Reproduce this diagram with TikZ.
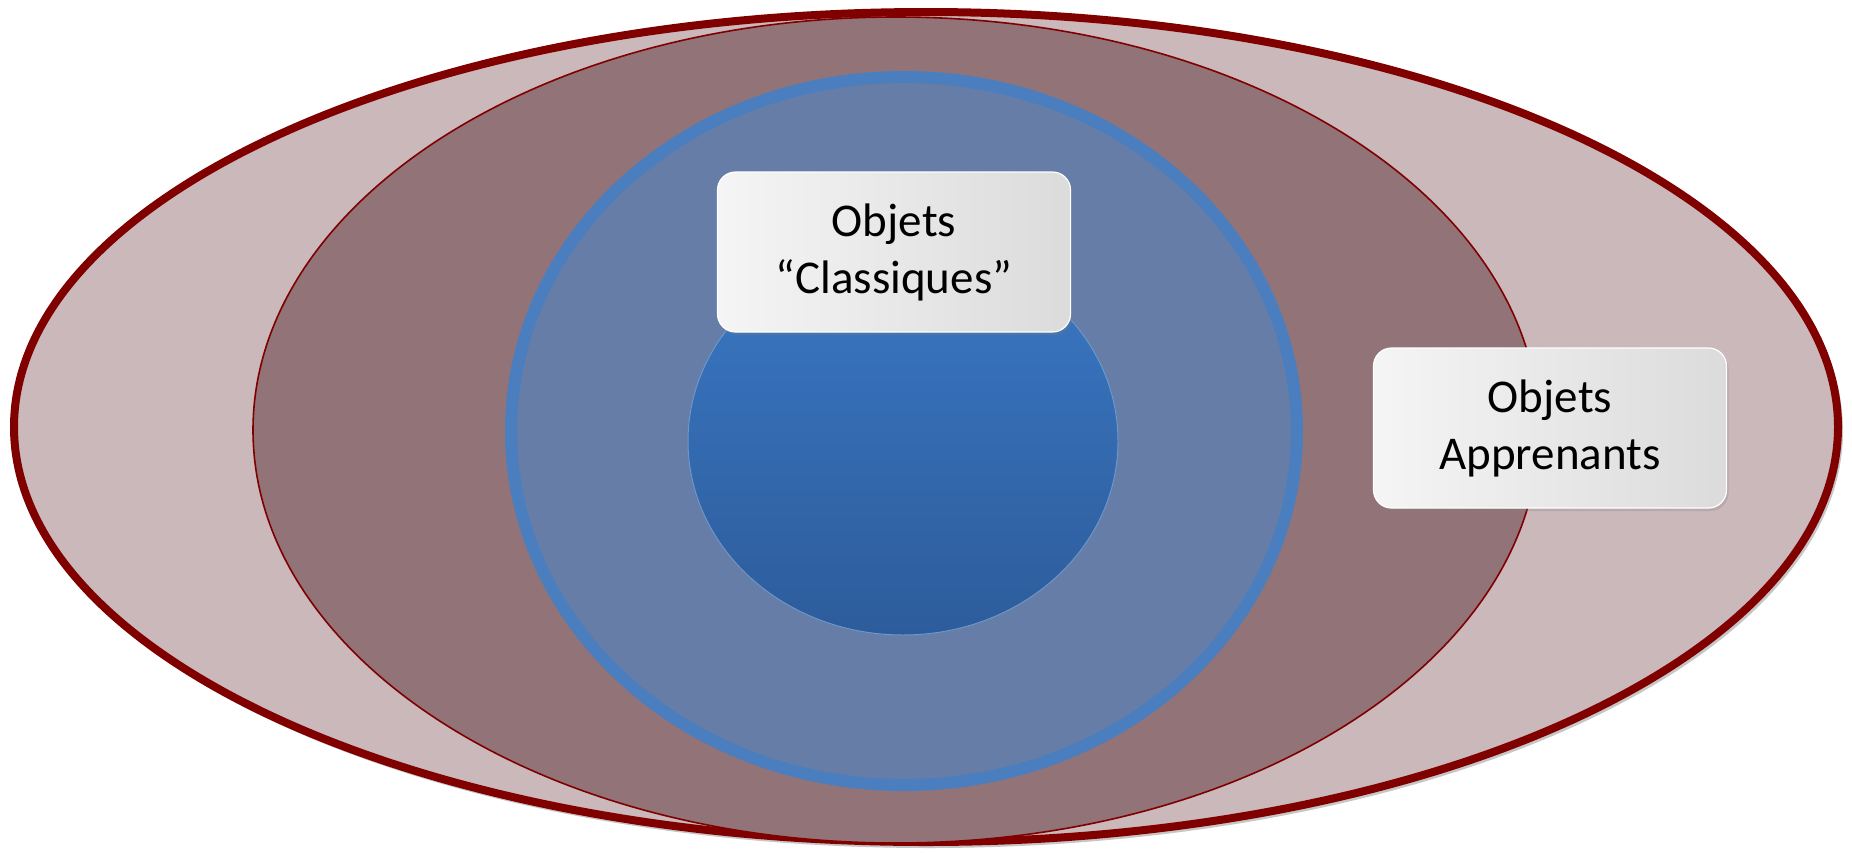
\documentclass[tikz,border=0pt]{standalone}
\usepackage{fontspec}
\setmainfont{Carlito}
\usetikzlibrary{calc,shadows}

\definecolor{bordeaux}{RGB}{128,0,0}
\definecolor{rosegris}{RGB}{202,184,187}
\definecolor{mauve}{RGB}{146,115,120}
\definecolor{bleugris}{RGB}{102,125,168}
\definecolor{bleutrait}{RGB}{74,126,190}
\definecolor{bleuhaut}{RGB}{58,120,196}
\definecolor{bleubas}{RGB}{45,92,155}

\begin{document}
\begin{tikzpicture}
      [x=1pt,y=-1pt
    % эти стили задают заливку колец
      ,anneau1/.style={draw=bordeaux,fill=rosegris,line width=8pt}
      ,anneau2/.style={draw=bordeaux,fill=mauve,line width=1.6pt}
      ,anneau3/.style={draw=bleutrait,fill=bleugris,line width=12pt}
      ,noyau/.style={draw=bleutrait!80!white,line width=1pt,top color=bleuhaut,bottom color=bleubas}
    % а этот -- подписи
      ,etiquette/.style={draw=white,line width=1.2pt,rounded corners=18pt,
        left color=gray!8,right color=gray!28,
        minimum width=353pt,minimum height=160pt,align=center,
        font=\fontsize{47}{57}\selectfont,text=black,
        drop shadow={shadow xshift=2pt,shadow yshift=-3pt,opacity=.25}}
      ]
        \fill[white] (0,0) rectangle (1852,852);
        \useasboundingbox (0,0) rectangle (1852,852);

        \coordinate (O1) at (926,427);
        \coordinate (O2) at (896,430);
        \coordinate (O3) at (904,431);
        \coordinate (O4) at (903,441);

        \fill[gray!45] ($(O1)+(3,4)$) ellipse [x radius=914pt,y radius=417pt];
        \filldraw[anneau1] (O1) ellipse [x radius=912pt,y radius=415pt];
        \filldraw[anneau2] (O2) ellipse [x radius=643pt,y radius=413pt];
        \filldraw[anneau3] (O3) ellipse [x radius=393pt,y radius=354pt];
        \filldraw[noyau] (O4) ellipse [x radius=215pt,y radius=194pt];

        \node[etiquette] (classiques) at (894,252) {Objets\\``Classiques''};
        \node[etiquette] (apprenants) at (1550,428) {Objets\\Apprenants};
       \end{tikzpicture}
\end{document}
